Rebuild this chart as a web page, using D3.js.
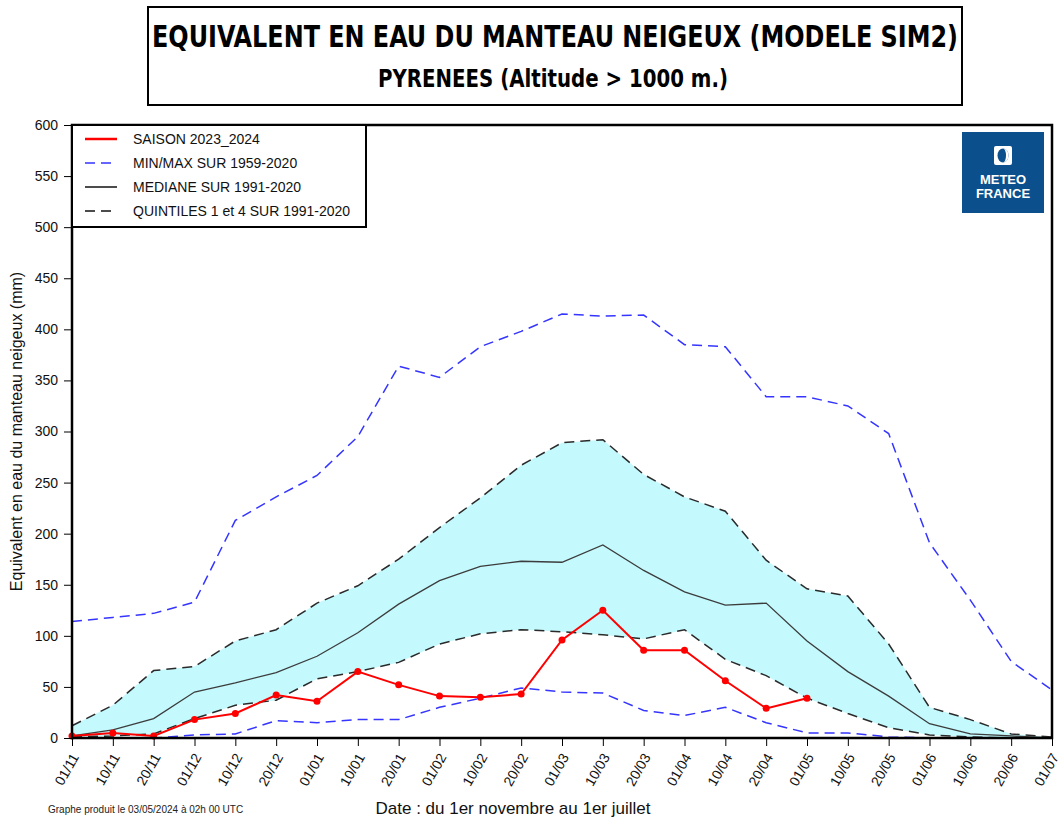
<!DOCTYPE html>
<html>
<head>
<meta charset="utf-8">
<script src="https://cdn.jsdelivr.net/npm/d3@7"></script>
<style>
  body { margin: 0; background: #fff; }
  svg { font-family: "Liberation Sans", Arial, sans-serif; }
</style>
</head>
<body>
<div id="chart"></div>
<script>
// tick labels (one every ~10 days from 1 Nov to 1 Jul)
var dates = ["01/11","10/11","20/11","01/12","10/12","20/12","01/01","10/01","20/01","01/02",
  "10/02","20/02","01/03","10/03","20/03","01/04","10/04","20/04","01/05","10/05",
  "20/05","01/06","10/06","20/06","01/07"];

// climatology, mm
var maxVals = [114,118,122,133,213,236,257,295,364,353,383,398,415,413,414,385,383,334,334,325,298,191,135,75,47];
var minVals = [0,0,0,3,4,17,15,18,18,30,39,49,45,44,27,22,30,15,5,5,1,0,0,0,0];
var q4Vals = [12,32,66,70,95,106,132,149,175,206,235,267,289,292,258,236,222,174,146,139,92,30,18,4,1];
var medianVals = [2,8,19,45,54,64,80,103,131,154,168,173,172,189,164,143,130,132,95,65,41,14,4,2,0];
var q1Vals = [1,2,4,19,32,37,58,65,74,92,102,106,104,101,97,106,77,61,39,24,10,3,1,0,0];

// current season 2023_2024 (until 01/05)
var seasonVals = [2,5,2,18,24,42,36,65,52,41,40,43,96,125,86,86,56,29,39];

var yTicks = d3.range(0, 601, 50);

var W = 1063, H = 820;
var margin = {top: 125, right: 11, bottom: 82, left: 72};
var width = W - margin.left - margin.right,
    height = H - margin.top - margin.bottom;

var root = d3.select("#chart").append("svg")
  .attr("width", W).attr("height", H);

// title box
root.append("rect")
  .attr("x", 148).attr("y", 7).attr("width", 814).attr("height", 98)
  .attr("fill", "none").attr("stroke", "#000").attr("stroke-width", 2);

// squeeze a bold title horizontally to the wanted width
function squeezedTitle(txt, cx, cy, size, wanted) {
  var t = root.append("text")
    .attr("text-anchor", "middle")
    .style("font-family", "'Liberation Sans Narrow','DejaVu Sans Condensed',sans-serif")
    .style("font-weight", "bold").style("font-size", size + "px")
    .text(txt);
  var natural = t.node().getComputedTextLength();
  var k = Math.min(1, wanted / natural);
  t.attr("transform", "translate(" + cx + "," + cy + ") scale(" + k + ",1)");
}
squeezedTitle("EQUIVALENT EN EAU DU MANTEAU NEIGEUX (MODELE SIM2)", 555, 47, 31, 806);
squeezedTitle("PYRENEES  (Altitude > 1000 m.)", 553, 87, 24, 350);

var svg = root.append("g")
  .attr("transform", "translate(" + margin.left + "," + margin.top + ")");

var x = d3.scalePoint().domain(dates).range([0, width]);
var y = d3.scaleLinear().domain([0, 600]).range([height, 0]);

// band between quintiles 1 and 4
svg.append("path")
  .datum(dates)
  .attr("fill", "#c4f9fd")
  .attr("d", d3.area()
    .x(function(d) { return x(d); })
    .y0(function(d, i) { return y(q1Vals[i]); })
    .y1(function(d, i) { return y(q4Vals[i]); }));

function drawLine(vals, color, w, dash) {
  svg.append("path")
    .datum(vals)
    .attr("fill", "none")
    .attr("stroke", color)
    .attr("stroke-width", w)
    .attr("stroke-dasharray", dash)
    .attr("d", d3.line()
      .x(function(d, i) { return x(dates[i]); })
      .y(function(d) { return y(d); }));
}

drawLine(maxVals, "#3535ff", 1.5, "10,6");
drawLine(minVals, "#3535ff", 1.5, "10,6");
drawLine(q4Vals, "#2a2a2a", 1.5, "10,6");
drawLine(q1Vals, "#2a2a2a", 1.5, "10,6");
drawLine(medianVals, "#3c3c3c", 1.3, null);
drawLine(seasonVals, "#ff0000", 2, null);

svg.selectAll(".pt")
  .data(seasonVals)
  .enter().append("circle")
  .attr("cx", function(d, i) { return x(dates[i]); })
  .attr("cy", function(d) { return y(d); })
  .attr("r", 3.5)
  .attr("fill", "#ff0000");

// axes
var yAxis = svg.append("g")
  .call(d3.axisLeft(y).tickValues(yTicks).tickSize(8).tickPadding(6));
yAxis.select(".domain").remove();
yAxis.selectAll("text").style("font-size", "14px").attr("fill", "#111");

var xAxis = svg.append("g")
  .attr("transform", "translate(0," + height + ")")
  .call(d3.axisBottom(x).tickSize(8));
xAxis.select(".domain").remove();
xAxis.selectAll("text")
  .style("font-size", "14px").attr("fill", "#111")
  .attr("text-anchor", "end")
  .attr("x", 0).attr("y", 0).attr("dy", 0)
  .attr("transform", "translate(7,19) rotate(-60)");

// frame
svg.append("rect")
  .attr("width", width).attr("height", height)
  .attr("fill", "none").attr("stroke", "#000").attr("stroke-width", 2.5);

// legend
var legend = svg.append("g");
legend.append("rect")
  .attr("width", 294).attr("height", 102)
  .attr("fill", "#fff").attr("stroke", "#000").attr("stroke-width", 2);
var legItems = [
  {label: "SAISON 2023_2024", color: "#ff0000", w: 2.5, dash: null},
  {label: "MIN/MAX SUR 1959-2020", color: "#3535ff", w: 1.5, dash: "10,6"},
  {label: "MEDIANE SUR 1991-2020", color: "#111", w: 1.5, dash: null},
  {label: "QUINTILES 1 et 4 SUR 1991-2020", color: "#111", w: 1.5, dash: "10,6"}
];
legItems.forEach(function(d, i) {
  var ly = 14 + i * 24;
  legend.append("line")
    .attr("x1", 13).attr("x2", 45).attr("y1", ly).attr("y2", ly)
    .attr("stroke", d.color).attr("stroke-width", d.w)
    .attr("stroke-dasharray", d.dash);
  legend.append("text")
    .attr("x", 61).attr("y", ly).attr("dy", "0.35em")
    .style("font-size", "14px").attr("fill", "#111")
    .text(d.label);
});

// METEO FRANCE logo
var logo = svg.append("g").attr("transform", "translate(" + (width - 90) + ",7)");
logo.append("rect").attr("width", 82).attr("height", 81).attr("fill", "#0b4f8c");
logo.append("rect").attr("x", 32).attr("y", 14).attr("width", 18).attr("height", 19)
  .attr("rx", 2).attr("fill", "#fff");
logo.append("ellipse").attr("cx", 41).attr("cy", 23.5).attr("rx", 5.5).attr("ry", 7)
  .attr("fill", "#0b4f8c");
logo.append("path").attr("d", "M41,16.5 A5.5,7 0 0,1 41,30.5 A3,7 0 0,0 41,16.5 Z")
  .attr("fill", "#fff");
logo.append("text").attr("x", 41).attr("y", 52).attr("text-anchor", "middle")
  .style("font-size", "13px").style("font-weight", "bold").attr("fill", "#fff")
  .text("METEO");
logo.append("text").attr("x", 41).attr("y", 66).attr("text-anchor", "middle")
  .style("font-size", "13px").style("font-weight", "bold").attr("fill", "#fff")
  .text("FRANCE");

// axis titles
root.append("text")
  .attr("transform", "translate(22," + (margin.top + height / 2) + ") rotate(-90)")
  .attr("text-anchor", "middle")
  .style("font-size", "16px").attr("fill", "#111")
  .text("Equivalent en eau du manteau neigeux (mm)");
root.append("text")
  .attr("x", 513).attr("y", 814)
  .attr("text-anchor", "middle")
  .style("font-size", "17px").attr("fill", "#111")
  .text("Date : du 1er novembre au 1er juillet");
root.append("text")
  .attr("x", 48).attr("y", 813)
  .style("font-size", "10px").attr("fill", "#222")
  .text("Graphe produit le 03/05/2024 à 02h 00 UTC");
</script>
</body>
</html>
